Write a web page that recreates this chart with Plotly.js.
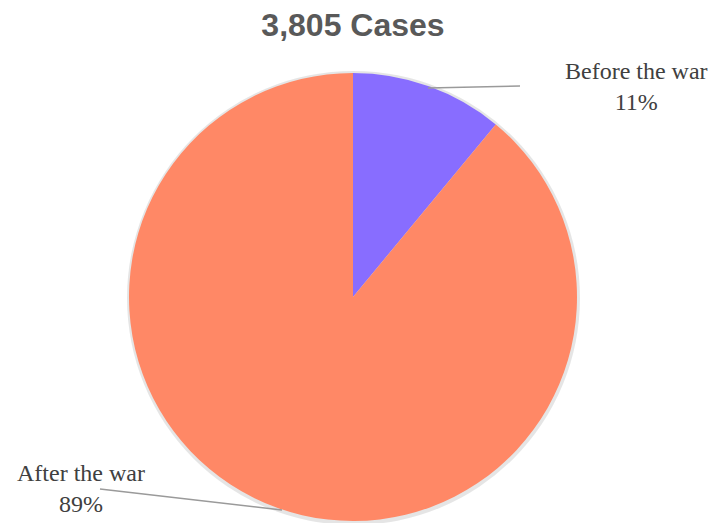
<!DOCTYPE html>
<html>
<head>
<meta charset="utf-8">
<script src="https://cdn.plot.ly/plotly-3.0.1.min.js"></script>
<style>html,body{margin:0;padding:0;background:#fff;}#chart{width:728px;height:523px;}</style>
</head>
<body>
<div id="chart"></div>
<script>
const categories = ["Before the war", "After the war"];
const shares = [11, 89];
const sliceColors = ["#886DFF", "#FF8866"];
const titleText = "3,805 Cases";

const W = 728, H = 523;
const px = x => x / W;
const py = y => 1 - y / H;

const trace = {
  type: "pie",
  labels: categories,
  values: shares,
  sort: false,
  direction: "clockwise",
  rotation: 0,
  textinfo: "none",
  hoverinfo: "label+percent",
  marker: { colors: sliceColors, line: { width: 0 } },
  domain: { x: [px(129), px(577)], y: [py(521), py(73)] },
  showlegend: false
};

const labelFont = { family: "Liberation Serif, Times New Roman, serif", size: 24, color: "#404040" };

const layout = {
  width: W, height: H,
  margin: { l: 0, r: 0, t: 0, b: 0 },
  paper_bgcolor: "#fff",
  title: {
    text: "<b>" + titleText + "</b>",
    font: { family: "Liberation Sans, Arial, sans-serif", size: 32, color: "#595959" },
    x: px(353), xanchor: "center", y: py(25), yanchor: "middle"
  },
  annotations: [
    { xref: "paper", yref: "paper", x: px(636), y: py(87), xanchor: "center", yanchor: "middle",
      text: categories[0] + "<br>" + shares[0] + "%", showarrow: false, font: labelFont, align: "center" },
    { xref: "paper", yref: "paper", x: px(81), y: py(488), xanchor: "center", yanchor: "middle",
      text: categories[1] + "<br>" + shares[1] + "%", showarrow: false, font: labelFont, align: "center" }
  ],
  shapes: [
    { type: "circle", xref: "paper", yref: "paper", layer: "below",
      x0: px(127), y0: py(71), x1: px(580), y1: py(525),
      fillcolor: "rgba(0,0,0,0.10)", line: { width: 0 } },
    { type: "line", xref: "paper", yref: "paper", x0: px(428), y0: py(88), x1: px(520), y1: py(86),
      line: { color: "#9a9a9a", width: 1.5 } },
    { type: "line", xref: "paper", yref: "paper", x0: px(100), y0: py(489), x1: px(282), y1: py(510),
      line: { color: "#9a9a9a", width: 1.5 } }
  ]
};

Plotly.newPlot("chart", [trace], layout, { displayModeBar: false, staticPlot: true });
</script>
</body>
</html>
